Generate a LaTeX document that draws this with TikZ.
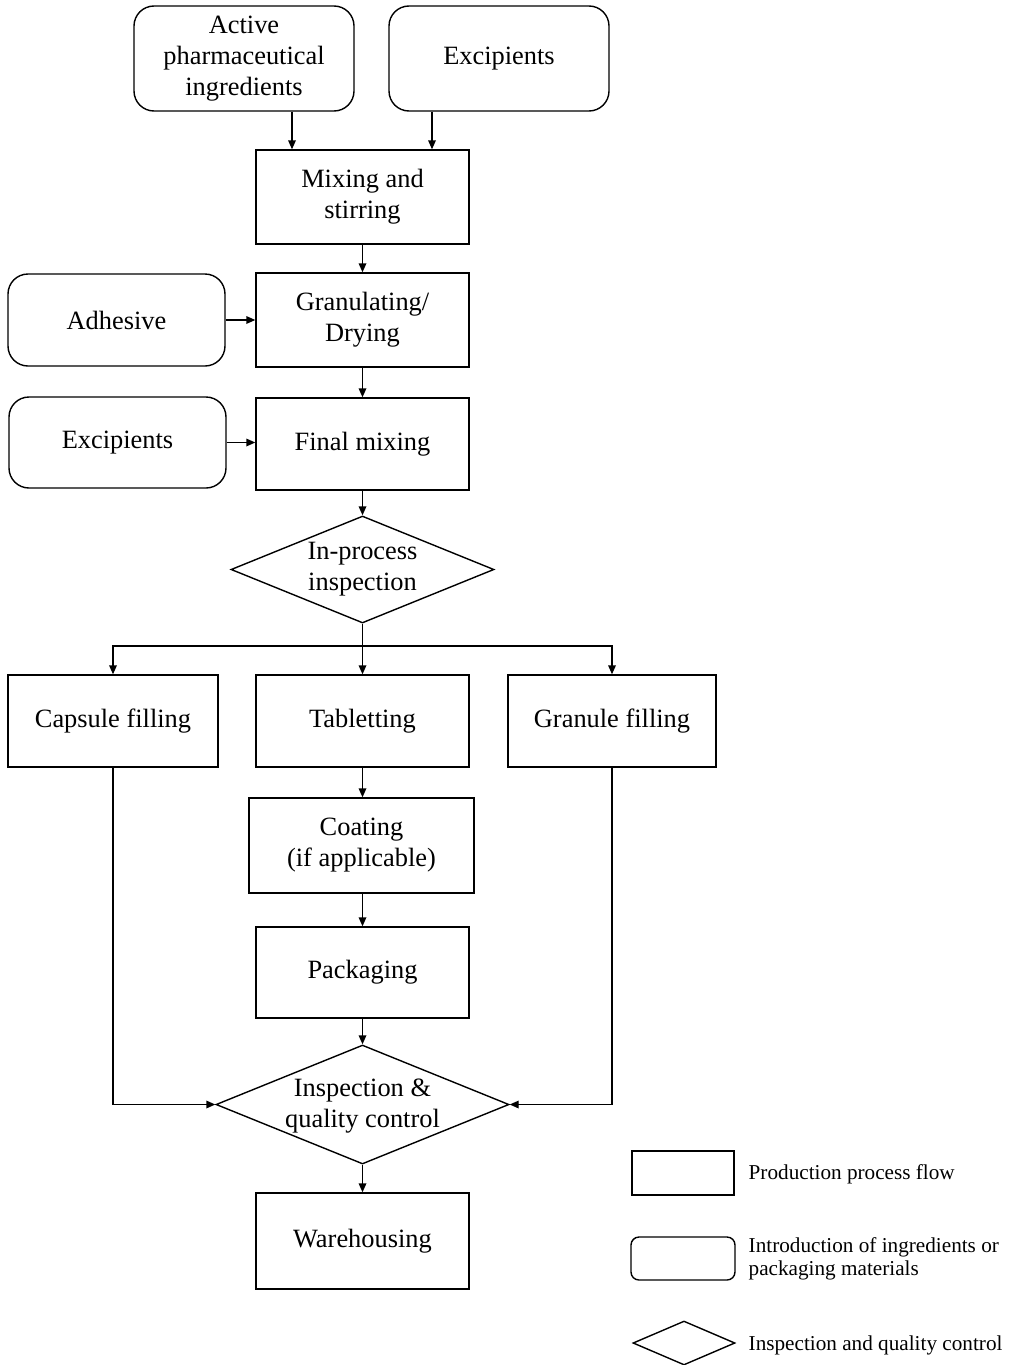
\documentclass[tikz,border=0pt]{standalone}
\usepackage{fontspec}
\setmainfont{Liberation Serif}
\usetikzlibrary{shapes.geometric,arrows.meta}
\begin{document}
\begin{tikzpicture}[x=0.5pt,y=-0.5pt,
  line width=0.7pt,
  every node/.style={align=center, inner sep=0pt, font=\fontsize{13.2}{15.5}\selectfont},
  procbox/.style={draw, rectangle},
  inbox/.style={draw, rectangle, rounded corners=10pt},
  checkbox/.style={draw, diamond},
  arr/.style={-{Triangle[length=4.5pt,width=3.8pt]}},
  legtext/.style={anchor=west, align=left, font=\fontsize{10.6}{11.2}\selectfont}]
\useasboundingbox (0,0) rectangle (1008,1365);

% ingredients entering the process
\node[inbox, minimum width=110pt, minimum height=52.5pt] (api) at (244,58.5) {Active\\pharmaceutical\\ingredients};
\node[inbox, minimum width=110pt, minimum height=52.5pt] (exc1) at (499,58.5) {Excipients};
\node[inbox, minimum width=108.5pt, minimum height=46pt] (adh) at (116.5,320) {Adhesive};
\node[inbox, minimum width=108.5pt, minimum height=45.5pt] (exc2) at (117.5,442.5) {Excipients};

% main process steps
\node[procbox, minimum width=106.5pt, minimum height=47pt] (mix) at (362.5,197) {Mixing and\\stirring};
\node[procbox, minimum width=106.5pt, minimum height=47pt] (gran) at (362.5,320) {Granulating/\\Drying};
\node[procbox, minimum width=106.5pt, minimum height=46pt] (fin) at (362.5,444) {Final mixing};
\node[checkbox, minimum width=131.5pt, minimum height=53.5pt] (d1) at (362.5,569.5) {};
\node at (362.5,569.5) {In-process\\inspection};
\node[procbox, minimum width=105pt, minimum height=46pt] (cap) at (113,721) {Capsule filling};
\node[procbox, minimum width=106.5pt, minimum height=46pt] (tab) at (362.5,721) {Tabletting};
\node[procbox, minimum width=104pt, minimum height=46pt] (granf) at (612,721) {Granule filling};
\node[procbox, minimum width=112.5pt, minimum height=47.5pt] (coat) at (361.5,845.5) {Coating\\(if applicable)};
\node[procbox, minimum width=106.5pt, minimum height=45.5pt] (pack) at (362.5,972.5) {Packaging};
\node[checkbox, minimum width=146.5pt, minimum height=59.5pt] (d2) at (362.5,1104.5) {};
\node at (362.5,1106) {Inspection \&\\quality control};
\node[procbox, minimum width=106.5pt, minimum height=48pt] (ware) at (362.5,1241) {Warehousing};

% connectors
\coordinate (xa) at (292,0);
\coordinate (xb) at (432,0);
\coordinate (br) at (362.5,646);
\draw[arr] (api.south -| xa) -- (mix.north -| xa);
\draw[arr] (exc1.south -| xb) -- (mix.north -| xb);
\draw[arr] (mix) -- (gran);
\draw[arr] (adh) -- (gran);
\draw[arr] (gran) -- (fin);
\draw[arr] (exc2.east) -- (fin.west |- exc2.east);
\draw[arr] (fin) -- (d1.north);
\draw (d1.south) -- (br);
\draw[arr] (br) -| (cap.north);
\draw[arr] (br) -- (tab.north);
\draw[arr] (br) -| (granf.north);
\draw[arr] (tab.south) -- (coat.north -| tab.south);
\draw[arr] (coat.south -| pack.north) -- (pack.north);
\draw[arr] (pack) -- (d2.north);
\draw[arr] (cap.south) |- (d2.west);
\draw[arr] (granf.south) |- (d2.east);
\draw[arr] (d2.south) -- (ware);

% legend
\node[procbox, minimum width=51pt, minimum height=22pt] (lg1) at (683,1173) {};
\node[inbox, rounded corners=4pt, minimum width=52pt, minimum height=21.5pt] (lg2) at (683,1258.5) {};
\node[checkbox, minimum width=51pt, minimum height=22pt] (lg3) at (684,1343) {};
\node[legtext] (lt1) at (748,1174) {Production process flow};
\node[legtext] (lt2) at (748,1259) {Introduction of ingredients or\\packaging materials};
\node[legtext] (lt3) at (748,1345) {Inspection and quality control};
\end{tikzpicture}
\end{document}
